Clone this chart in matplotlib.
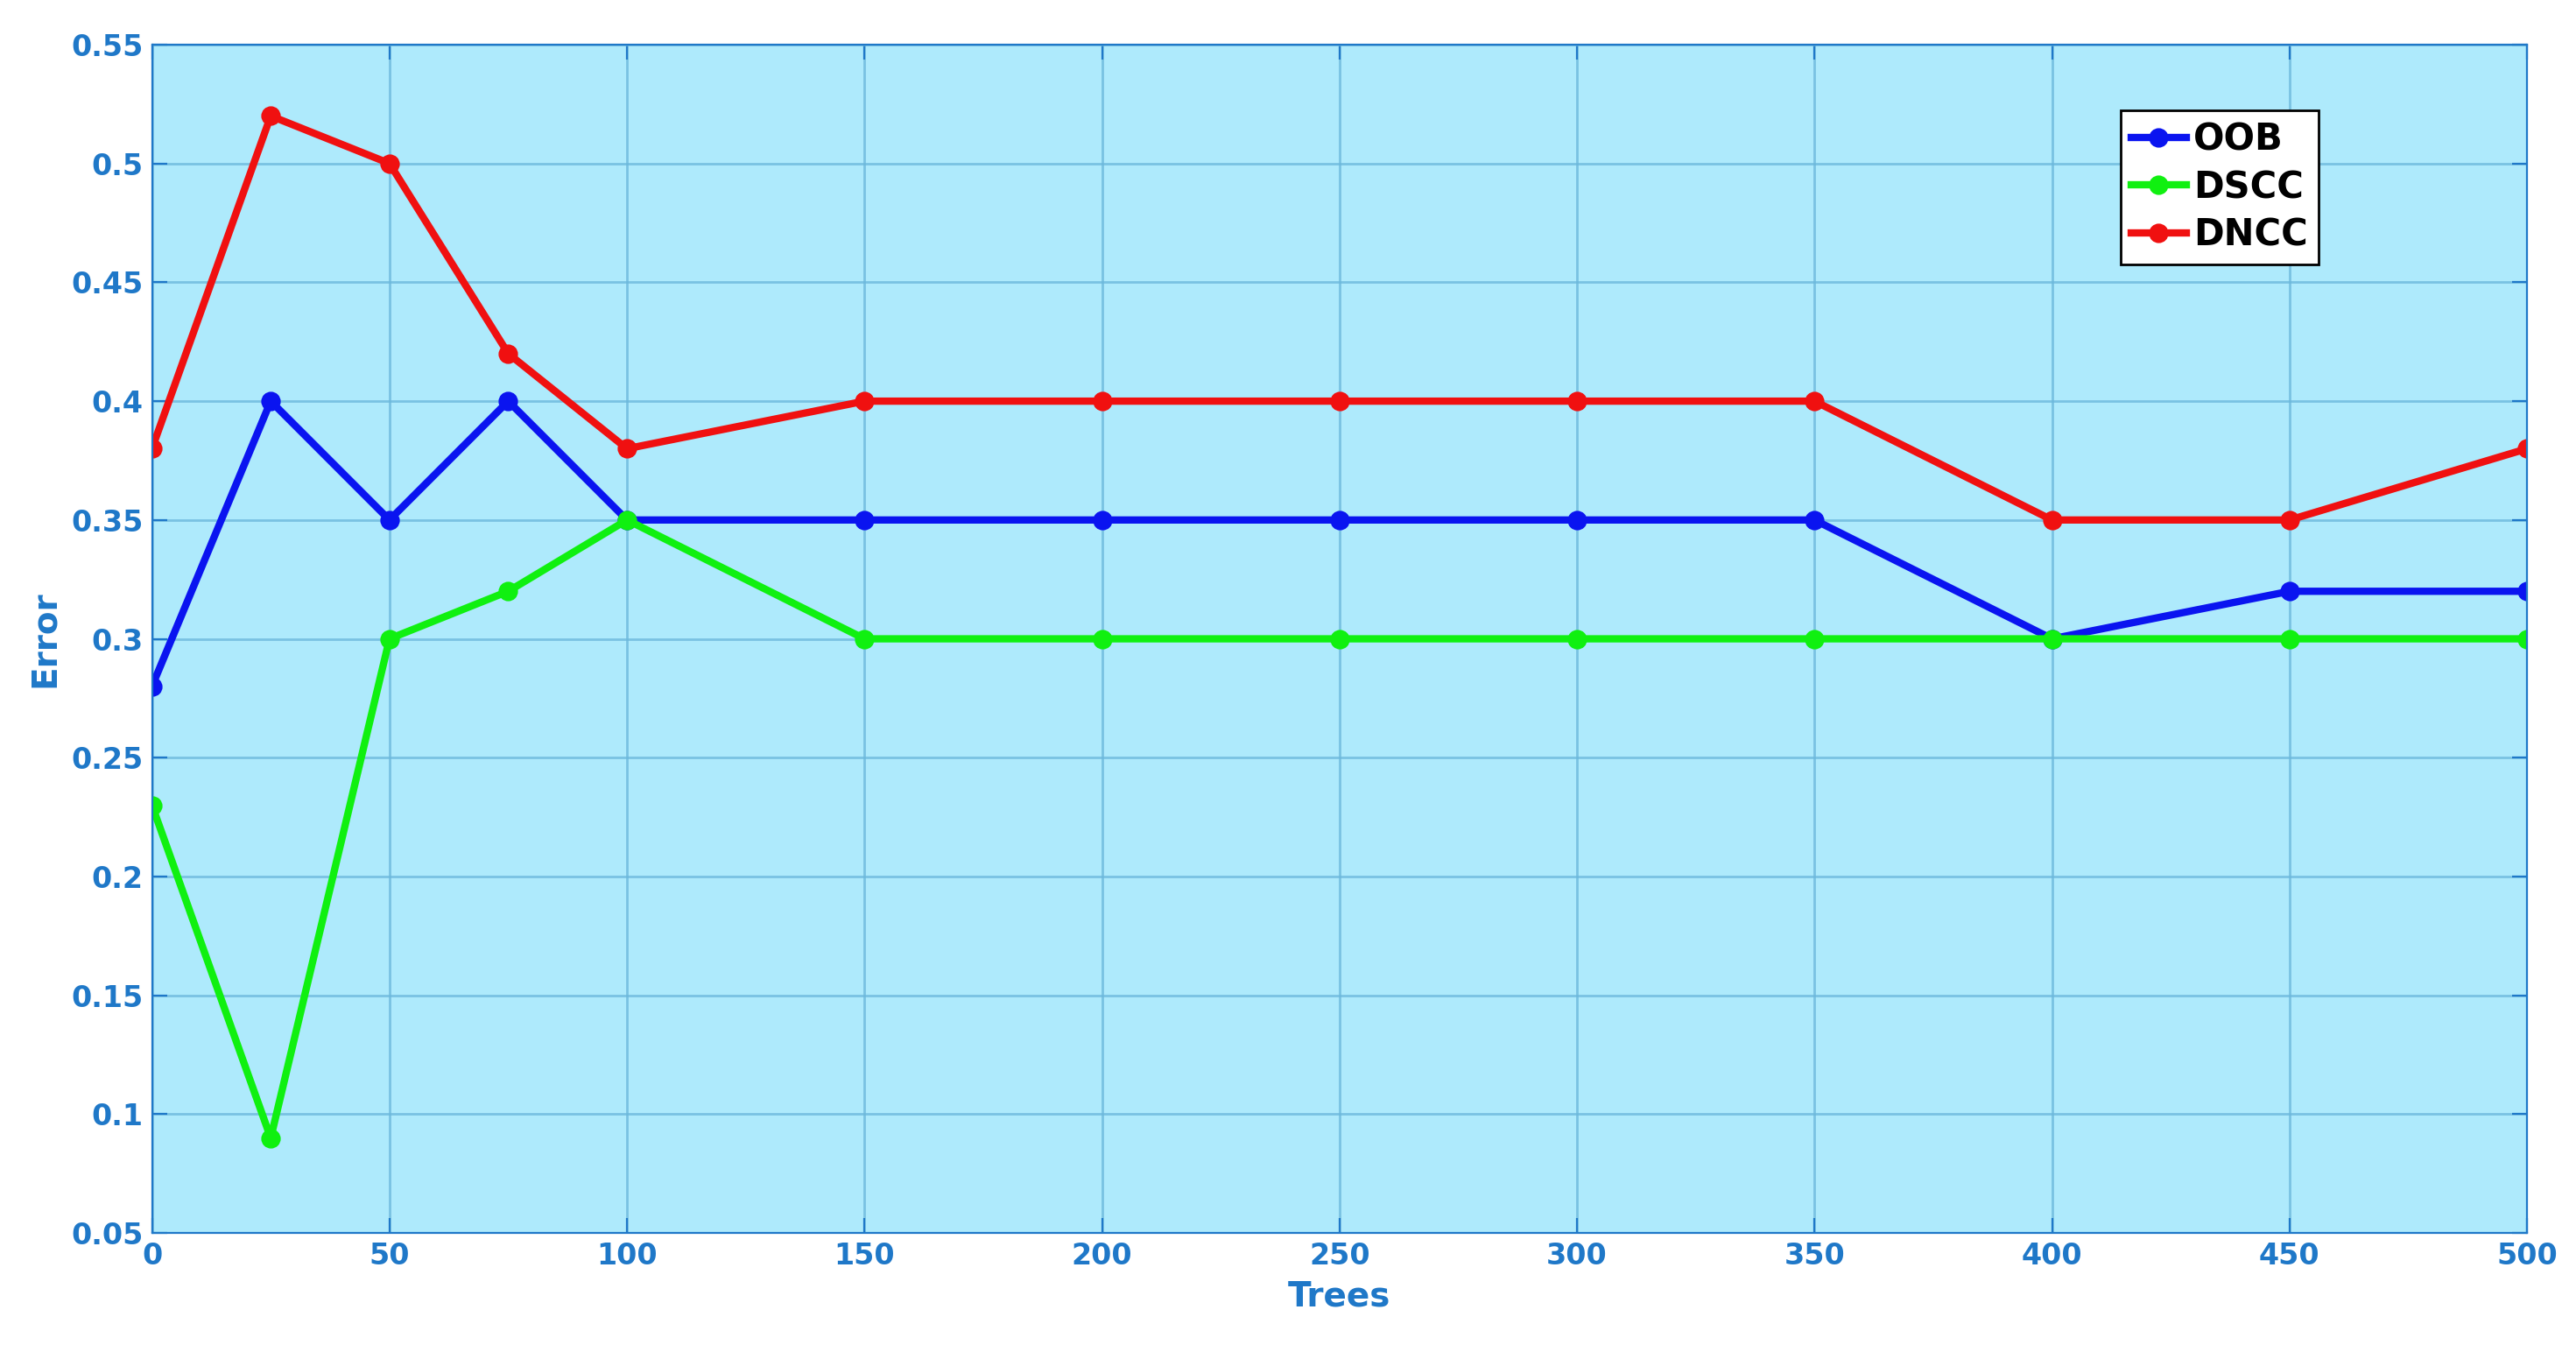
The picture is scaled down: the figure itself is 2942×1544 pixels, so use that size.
import matplotlib
matplotlib.use("Agg")
import matplotlib.pyplot as plt

trees = [0, 25, 50, 75, 100, 150, 200, 250, 300, 350, 400, 450, 500]
oob = [0.28, 0.40, 0.35, 0.40, 0.35, 0.35, 0.35, 0.35, 0.35, 0.35, 0.30, 0.32, 0.32]
dscc = [0.23, 0.09, 0.30, 0.32, 0.35, 0.30, 0.30, 0.30, 0.30, 0.30, 0.30, 0.30, 0.30]
dncc = [0.38, 0.52, 0.50, 0.42, 0.38, 0.40, 0.40, 0.40, 0.40, 0.40, 0.35, 0.35, 0.38]
xticks = [0, 50, 100, 150, 200, 250, 300, 350, 400, 450, 500]
yticks = [0.05, 0.1, 0.15, 0.2, 0.25, 0.3, 0.35, 0.4, 0.45, 0.5, 0.55]
ylabels = ["0.05", "0.1", "0.15", "0.2", "0.25", "0.3", "0.35", "0.4", "0.45", "0.5", "0.55"]

tc = "#1f78c8"
fig = plt.figure(figsize=(14.71, 7.72), dpi=200)
ax = fig.add_axes([0.059, 0.088, 0.922, 0.879])
ax.set_facecolor("#aeeafc")
ax.plot(trees, oob, color="#0a14f0", lw=3, marker="o", ms=7, label="OOB")
ax.plot(trees, dscc, color="#10f010", lw=3, marker="o", ms=7, label="DSCC")
ax.plot(trees, dncc, color="#f01010", lw=3, marker="o", ms=7, label="DNCC")
ax.set_xlim(0, 500)
ax.set_ylim(0.05, 0.55)
ax.set_xticks(xticks)
ax.set_yticks(yticks)
ax.set_yticklabels(ylabels)
ax.grid(True, color="#6cb8dc", lw=1, alpha=0.8)
ax.tick_params(colors=tc, labelsize=12, direction="in", length=6, top=True, right=True)
for lab in ax.get_xticklabels() + ax.get_yticklabels():
    lab.set_fontweight("bold")
for s in ax.spines.values():
    s.set_color(tc)
ax.set_xlabel("Trees", color=tc, fontsize=14, fontweight="bold")
ax.set_ylabel("Error", color=tc, fontsize=14, fontweight="bold")
leg = ax.legend(loc="upper right", bbox_to_anchor=(0.92, 0.96), fancybox=False,
                prop={"weight": "bold", "size": 15}, handlelength=1.5,
                handletextpad=0.2, borderpad=0.3, labelspacing=0.3, framealpha=1)
leg.get_frame().set_edgecolor("black")
fig.savefig("out.png", dpi=200)
